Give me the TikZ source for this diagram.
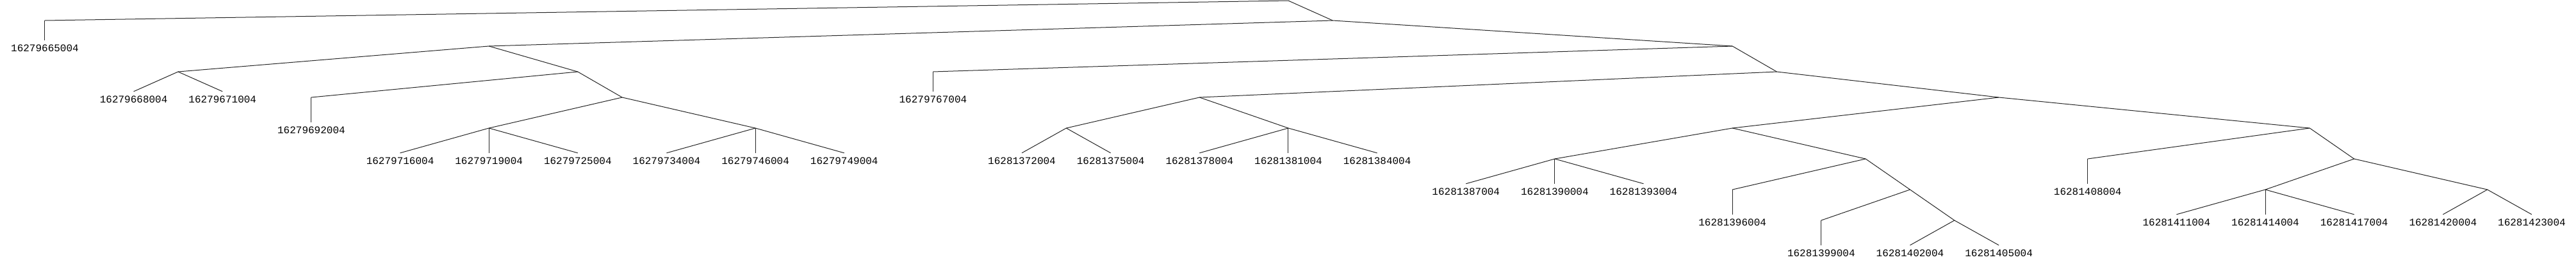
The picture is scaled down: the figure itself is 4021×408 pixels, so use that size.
\documentclass[tikz,border=0pt]{standalone}
\usepackage{fontspec}
\newfontfamily\leaffont{Liberation Mono}
\begin{document}
\begin{tikzpicture}[x=138.64pt,y=-1pt,
  edge/.style={line width=1pt,draw=black!85},
  leaf/.style={anchor=base,font=\leaffont\fontsize{16}{18}\selectfont,inner sep=0pt,text height=17.5pt,text depth=3pt}]
\path[use as bounding box] (-70pt,0pt) rectangle (3951pt,-408pt);
% internal (unlabelled) nodes
\coordinate (R) at (14,1);
\coordinate (N1) at (14.5,32);
\coordinate (U0) at (0,32);
\coordinate (N2) at (5,72);
\coordinate (N3) at (19,72);
\coordinate (N4) at (1.5,112);
\coordinate (N5) at (6,112);
\coordinate (U3) at (3,152);
\coordinate (N6) at (6.5,152);
\coordinate (N7) at (5,200);
\coordinate (N8) at (8,200);
\coordinate (U10) at (10,112);
\coordinate (N9) at (19.5,112);
\coordinate (N10) at (13,152);
\coordinate (N11) at (22,152);
\coordinate (N12) at (11.5,200);
\coordinate (N13) at (14,200);
\coordinate (N14) at (19,200);
\coordinate (N15) at (25.5,200);
\coordinate (N16) at (17,248);
\coordinate (N17) at (20.5,248);
\coordinate (U19) at (19,296);
\coordinate (N18) at (21,296);
\coordinate (U20) at (20,344);
\coordinate (N19) at (21.5,344);
\coordinate (U23) at (23,248);
\coordinate (N20) at (26,248);
\coordinate (N21) at (25,296);
\coordinate (N22) at (27.5,296);
% leaves
\foreach \k/\t/\b in {0/16279665004/80.5, 1/16279668004/160.5, 2/16279671004/160.5,
  3/16279692004/208.5, 4/16279716004/256.5, 5/16279719004/256.5, 6/16279725004/256.5,
  7/16279734004/256.5, 8/16279746004/256.5, 9/16279749004/256.5, 10/16279767004/160.5,
  11/16281372004/256.5, 12/16281375004/256.5, 13/16281378004/256.5, 14/16281381004/256.5,
  15/16281384004/256.5, 16/16281387004/304.5, 17/16281390004/304.5, 18/16281393004/304.5,
  19/16281396004/352.5, 20/16281399004/400.5, 21/16281402004/400.5, 22/16281405004/400.5,
  23/16281408004/304.5, 24/16281411004/352.5, 25/16281414004/352.5, 26/16281417004/352.5,
  27/16281420004/352.5, 28/16281423004/352.5}
  \node[leaf] (L\k) at (\k,\b) {\t};
% edges
\draw[edge] (R) -- (U0);  \draw[edge] (R) -- (N1);  \draw[edge] (U0) -- (L0.north);
\draw[edge] (N1) -- (N2); \draw[edge] (N1) -- (N3);
\draw[edge] (N2) -- (N4); \draw[edge] (N2) -- (N5);
\draw[edge] (N4) -- (L1.north); \draw[edge] (N4) -- (L2.north);
\draw[edge] (N5) -- (U3); \draw[edge] (N5) -- (N6); \draw[edge] (U3) -- (L3.north);
\draw[edge] (N6) -- (N7); \draw[edge] (N6) -- (N8);
\foreach \i in {4,5,6} \draw[edge] (N7) -- (L\i.north);
\foreach \i in {7,8,9} \draw[edge] (N8) -- (L\i.north);
\draw[edge] (N3) -- (U10); \draw[edge] (N3) -- (N9); \draw[edge] (U10) -- (L10.north);
\draw[edge] (N9) -- (N10); \draw[edge] (N9) -- (N11);
\draw[edge] (N10) -- (N12); \draw[edge] (N10) -- (N13);
\foreach \i in {11,12} \draw[edge] (N12) -- (L\i.north);
\foreach \i in {13,14,15} \draw[edge] (N13) -- (L\i.north);
\draw[edge] (N11) -- (N14); \draw[edge] (N11) -- (N15);
\draw[edge] (N14) -- (N16); \draw[edge] (N14) -- (N17);
\foreach \i in {16,17,18} \draw[edge] (N16) -- (L\i.north);
\draw[edge] (N17) -- (U19); \draw[edge] (N17) -- (N18); \draw[edge] (U19) -- (L19.north);
\draw[edge] (N18) -- (U20); \draw[edge] (N18) -- (N19); \draw[edge] (U20) -- (L20.north);
\foreach \i in {21,22} \draw[edge] (N19) -- (L\i.north);
\draw[edge] (N15) -- (U23); \draw[edge] (N15) -- (N20); \draw[edge] (U23) -- (L23.north);
\draw[edge] (N20) -- (N21); \draw[edge] (N20) -- (N22);
\foreach \i in {24,25,26} \draw[edge] (N21) -- (L\i.north);
\foreach \i in {27,28} \draw[edge] (N22) -- (L\i.north);
\end{tikzpicture}
\end{document}
